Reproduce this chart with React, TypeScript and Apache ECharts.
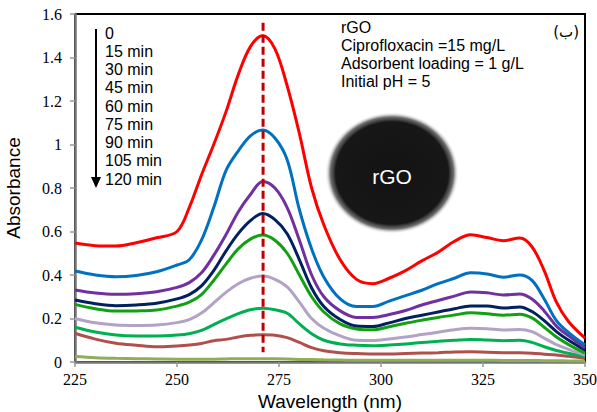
import React, { useEffect, useRef } from "react";
import * as echarts from "echarts";

const wavelengths = [225, 230, 235, 240, 245, 250, 253, 256, 259, 262, 265, 268, 271, 274, 277, 280, 283, 286, 290, 294, 298, 302, 306, 310, 314, 318, 322, 326, 330, 334, 337, 340, 343, 346, 350];

const t0 = [0.547, 0.535, 0.533, 0.548, 0.571, 0.6, 0.71, 0.86, 1.0, 1.15, 1.32, 1.45, 1.5, 1.44, 1.27, 1.05, 0.8, 0.63, 0.47, 0.38, 0.36, 0.385, 0.42, 0.465, 0.505, 0.555, 0.585, 0.572, 0.558, 0.57, 0.53, 0.42, 0.275, 0.185, 0.11];
const t15 = [0.418, 0.4, 0.392, 0.398, 0.415, 0.446, 0.47, 0.56, 0.71, 0.88, 0.97, 1.04, 1.067, 1.03, 0.93, 0.7, 0.52, 0.39, 0.29, 0.255, 0.255, 0.28, 0.305, 0.33, 0.36, 0.385, 0.41, 0.405, 0.39, 0.4, 0.375, 0.29, 0.19, 0.135, 0.078];
const t30 = [0.331, 0.317, 0.311, 0.314, 0.323, 0.343, 0.365, 0.41, 0.49, 0.585, 0.69, 0.77, 0.83, 0.8, 0.71, 0.56, 0.4, 0.3, 0.235, 0.205, 0.205, 0.218, 0.237, 0.262, 0.283, 0.303, 0.322, 0.318, 0.308, 0.313, 0.29, 0.235, 0.165, 0.12, 0.064];
const t45 = [0.285, 0.268, 0.259, 0.262, 0.27, 0.29, 0.31, 0.35, 0.42, 0.51, 0.59, 0.65, 0.683, 0.655, 0.59, 0.47, 0.34, 0.255, 0.195, 0.165, 0.163, 0.18, 0.2, 0.215, 0.23, 0.245, 0.258, 0.258, 0.248, 0.253, 0.232, 0.19, 0.14, 0.1, 0.055];
const t60 = [0.265, 0.245, 0.234, 0.235, 0.239, 0.257, 0.275, 0.31, 0.375, 0.45, 0.52, 0.565, 0.584, 0.56, 0.5, 0.4, 0.3, 0.23, 0.175, 0.152, 0.148, 0.162, 0.178, 0.192, 0.205, 0.216, 0.226, 0.222, 0.215, 0.22, 0.203, 0.16, 0.115, 0.08, 0.041];
const t75 = [0.2, 0.18, 0.17, 0.168, 0.17, 0.181, 0.195, 0.225, 0.272, 0.32, 0.36, 0.385, 0.395, 0.38, 0.345, 0.275, 0.2, 0.155, 0.12, 0.1, 0.099, 0.106, 0.115, 0.126, 0.137, 0.148, 0.155, 0.153, 0.147, 0.15, 0.14, 0.11, 0.08, 0.058, 0.032];
const t90 = [0.16, 0.138, 0.124, 0.12, 0.12, 0.124, 0.13, 0.145, 0.172, 0.198, 0.222, 0.24, 0.247, 0.24, 0.224, 0.175, 0.13, 0.1, 0.083, 0.077, 0.075, 0.078, 0.083, 0.09, 0.095, 0.1, 0.104, 0.101, 0.098, 0.1, 0.09, 0.07, 0.053, 0.04, 0.025];
const t105 = [0.132, 0.105, 0.086, 0.077, 0.07, 0.074, 0.078, 0.085, 0.098, 0.104, 0.115, 0.123, 0.125, 0.123, 0.112, 0.09, 0.066, 0.052, 0.043, 0.039, 0.037, 0.037, 0.039, 0.041, 0.043, 0.046, 0.047, 0.045, 0.043, 0.042, 0.04, 0.036, 0.032, 0.026, 0.017];
const t120 = [0.025, 0.02, 0.017, 0.015, 0.014, 0.013, 0.013, 0.013, 0.013, 0.014, 0.015, 0.015, 0.015, 0.015, 0.014, 0.012, 0.011, 0.01, 0.009, 0.008, 0.008, 0.008, 0.008, 0.008, 0.008, 0.008, 0.008, 0.008, 0.007, 0.007, 0.007, 0.006, 0.006, 0.005, 0.005];

const seriesValues = [t0, t15, t30, t45, t60, t75, t90, t105, t120];
const seriesNames = ["0", "15 min", "30 min", "45 min", "60 min", "75 min", "90 min", "105 min", "120 min"];
const seriesColors = ["#FF0000", "#0070C0", "#7030A0", "#002060", "#12A012", "#B3A2C7", "#00B050", "#B0504D", "#8FAE57"];

const peakLine = [[271.1, 1.56], [271.1, 0.045]];

const infoLines = ["rGO", "Ciprofloxacin =15 mg/L", "Adsorbent loading = 1 g/L", "Initial pH = 5"];

export default function App() {
  const ref = useRef<HTMLDivElement>(null);
  useEffect(() => {
    if (!ref.current) return;
    const chart = echarts.init(ref.current, null, { renderer: "svg" });
    const sans = "'Liberation Sans', Arial, sans-serif";
    const serif = "'Liberation Serif', 'Times New Roman', serif";
    const lines: any[] = seriesValues.map((vals, i) => ({
      name: seriesNames[i],
      type: "line",
      data: wavelengths.map((w, j) => [w, vals[j]]),
      smooth: 0.35,
      showSymbol: false,
      symbol: "none",
      lineStyle: { color: seriesColors[i], width: 3 },
      z: 20 - i,
    }));
    lines.push({
      type: "line",
      data: peakLine,
      symbol: "none",
      lineStyle: { color: "#C00000", width: 3, type: [8, 4] },
      z: 30,
    });

    const graphics: any[] = [];
    graphics.push({
      type: "ellipse",
      shape: { cx: 392, cy: 173, rx: 67, ry: 61 },
      style: {
        fill: {
          type: "radial", x: 0.5, y: 0.5, r: 0.5,
          colorStops: [
            { offset: 0, color: "#131313" },
            { offset: 0.84, color: "#171717" },
            { offset: 0.92, color: "rgba(50,50,50,0.7)" },
            { offset: 1, color: "rgba(255,255,255,0)" },
          ],
        },
      },
      z: 5,
    });
    graphics.push({
      type: "text", x: 392, y: 176,
      style: { text: "rGO", fill: "#ffffff", font: `21px ${sans}`, align: "center", verticalAlign: "middle" },
      z: 6,
    });
    seriesNames.forEach((n, i) => {
      graphics.push({
        type: "text", x: 105, y: 33 + i * 18.25,
        style: { text: n, fill: "#000", font: `16px ${sans}`, align: "left", verticalAlign: "middle" },
        z: 6,
      });
    });
    infoLines.forEach((n, i) => {
      graphics.push({
        type: "text", x: 341, y: 27 + i * 18.2,
        style: { text: n, fill: "#000", font: `16px ${sans}`, align: "left", verticalAlign: "middle" },
        z: 6,
      });
    });
    graphics.push({
      type: "text", x: 579, y: 32,
      style: { text: "(ب)", fill: "#000", font: `15px 'DejaVu Sans', sans-serif`, align: "right", verticalAlign: "middle" },
      z: 6,
    });
    graphics.push({
      type: "line",
      shape: { x1: 96, y1: 29, x2: 96, y2: 180 },
      style: { stroke: "#000", lineWidth: 2 },
      z: 6,
    });
    graphics.push({
      type: "polygon",
      shape: { points: [[91, 177], [101, 177], [96, 188]] },
      style: { fill: "#000" },
      z: 6,
    });

    chart.setOption({
      animation: false,
      backgroundColor: "#ffffff",
      grid: {
        left: 75, right: 12, top: 14, bottom: 50, containLabel: false, outerBoundsMode: "none",
        show: true, borderColor: "#000", borderWidth: 2, backgroundColor: "transparent",
      },
      xAxis: {
        type: "value", min: 225, max: 350, interval: 25,
        name: "Wavelength (nm)", nameLocation: "middle", nameGap: 29,
        nameTextStyle: { fontFamily: sans, fontSize: 19, color: "#000" },
        axisLine: { show: true, lineStyle: { color: "#767676", width: 2.5 } },
        axisTick: { show: true, length: 5, lineStyle: { color: "#999", width: 1.5 } },
        axisLabel: { fontFamily: serif, fontSize: 16, color: "#000", margin: 9 },
        splitLine: { show: false },
      },
      yAxis: {
        type: "value", min: 0, max: 1.6, interval: 0.2,
        name: "Absorbance", nameLocation: "middle", nameGap: 52,
        nameTextStyle: { fontFamily: sans, fontSize: 19, color: "#000" },
        axisLine: { show: true, lineStyle: { color: "#767676", width: 2.5 } },
        axisTick: { show: true, length: 5, lineStyle: { color: "#999", width: 1.5 } },
        axisLabel: { fontFamily: serif, fontSize: 16, color: "#000", margin: 13 },
        splitLine: { show: false },
      },
      graphic: graphics,
      series: lines,
    });
    return () => chart.dispose();
  }, []);
  return <div ref={ref} style={{ position: "fixed", left: 0, top: 0, width: 597, height: 412 }} />;
}
